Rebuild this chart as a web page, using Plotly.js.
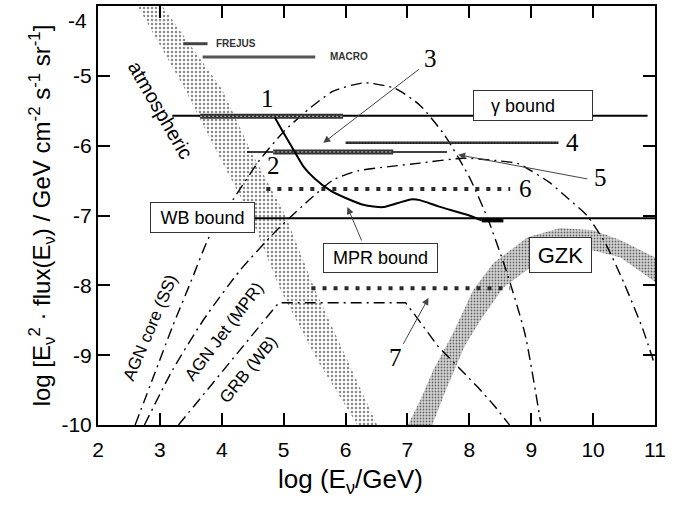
<!DOCTYPE html>
<html>
<head>
<meta charset="utf-8">
<script src="https://cdn.plot.ly/plotly-3.0.1.min.js"></script>
<style>html,body{margin:0;padding:0;background:#fff;}#chart{width:690px;height:518px;}</style>
</head>
<body>
<div id="chart"></div>
<script>
// ---------- data (log E [GeV], log flux) ----------
// atmospheric neutrino band
const atmLeftX  = [2.64, 3.41, 3.90, 4.46, 4.95, 5.54, 6.19];
const atmLeftY  = [-4.0, -5.2, -6.06, -7.0, -8.07, -9.07, -10.0];
const atmRightX = [3.04, 4.01, 4.46, 5.03, 5.51, 6.03, 6.51];
const atmRightY = [-4.0, -5.2, -6.06, -7.0, -8.07, -9.07, -10.0];
// GZK band
const gzkUpperX = [7.01, 7.21, 7.42, 7.74, 8.06, 8.39, 8.94, 9.47, 10.0, 10.44, 11.0];
const gzkUpperY = [-10.0, -9.64, -9.21, -8.68, -8.07, -7.68, -7.31, -7.18, -7.21, -7.35, -7.60];
const gzkLowerX = [7.40, 7.64, 7.93, 8.18, 8.55, 8.98, 9.47, 10.0, 10.44, 11.0];
const gzkLowerY = [-10.0, -9.46, -8.86, -8.50, -8.03, -7.75, -7.57, -7.50, -7.60, -7.95];
// model predictions
const ssX  = [2.6, 2.9, 3.2, 3.5, 3.8, 4.2, 4.6, 5.0, 5.4, 5.8, 6.3, 6.8, 7.2, 7.6, 8.0, 8.3, 8.6, 8.9, 9.15];
const ssY  = [-10, -9.3, -8.6, -7.95, -7.3, -6.75, -6.22, -5.8, -5.48, -5.22, -5.1, -5.18, -5.42, -5.85, -6.45, -7.05, -7.8, -8.7, -9.95];
const jetX = [2.75, 3.2, 3.7, 4.3, 4.9, 5.46, 5.8, 6.2, 6.7, 7.2, 7.9, 8.4, 8.8, 9.0, 9.3, 9.6, 9.9, 10.2, 10.5, 10.8, 11.0];
const jetY = [-10, -9.22, -8.5, -7.78, -7.2, -6.74, -6.49, -6.36, -6.3, -6.25, -6.18, -6.21, -6.26, -6.36, -6.53, -6.76, -7.0, -7.4, -7.97, -8.62, -9.15];
const grbX = [3.3, 3.7, 4.1, 4.5, 4.8, 4.92, 6.97, 7.1, 7.5, 7.85, 8.15, 8.4, 8.65];
const grbY = [-10, -9.57, -9.13, -8.7, -8.38, -8.25, -8.25, -8.4, -8.88, -9.2, -9.47, -9.72, -10];
// MPR bound
const mprX = [4.86, 5.0, 5.14, 5.32, 5.5, 5.75, 6.03, 6.3, 6.6, 6.85, 7.05, 7.2, 7.5, 8.0, 8.2];
const mprY = [-5.6, -5.82, -6.03, -6.3, -6.47, -6.64, -6.76, -6.85, -6.88, -6.82, -6.77, -6.78, -6.87, -7.0, -7.07];
const mprEndX = [8.2, 8.55];
const mprEndY = [-7.07, -7.07];
// bounds and experimental limits (x-range, level)
const gammaBoundX = [3.2, 10.88]; const gammaBoundY = [-5.57, -5.57];
const wbBoundX    = [4.5, 11.0];  const wbBoundY    = [-7.04, -7.04];
const lim1X  = [3.65, 5.96]; const lim1Y  = [-5.58, -5.58];
const lim2X  = [4.41, 7.64]; const lim2Y  = [-6.09, -6.09];
const lim2bX = [4.83, 6.77]; const lim2bY = [-6.09, -6.09];
const lim4X  = [6.0, 9.44];  const lim4Y  = [-5.96, -5.96];
const lim6X  = [4.72, 8.66]; const lim6Y  = [-6.62, -6.62];
const lim7X  = [5.45, 8.66]; const lim7Y  = [-8.04, -8.04];
const frejusX = [3.38, 3.77]; const frejusY = [-4.54, -4.54];
const macroX  = [3.69, 5.51]; const macroY  = [-4.73, -4.73];
// axis ticks
const xTicks = [2, 3, 4, 5, 6, 7, 8, 9, 10, 11];
const yTicks = [-10, -9, -8, -7, -6, -5, -4];
const yTickText = ['-10', '-9', '-8', '-7', '-6', '-5', ''];  // "-4" drawn just below the top edge

// ---------- traces ----------
function ln(x, y, color, width, dash) {
  return {x: x, y: y, type: 'scatter', mode: 'lines', hoverinfo: 'skip', showlegend: false,
          line: {color: color, width: width, dash: dash || 'solid', shape: 'spline', smoothing: 0.6}};
}
function band(xa, ya, xb, yb, pattern) {
  const x = xa.concat(xb.slice().reverse());
  const y = ya.concat(yb.slice().reverse());
  x.push(xa[0]); y.push(ya[0]);
  return {x: x, y: y, type: 'scatter', mode: 'lines', fill: 'toself', hoverinfo: 'skip', showlegend: false,
          line: {width: 0, color: 'rgba(0,0,0,0)'}, fillcolor: pattern.bgcolor, fillpattern: pattern};
}
const dashDot = '11px,5px,2px,5px';
const traces = [
  band(atmLeftX, atmLeftY, atmRightX, atmRightY, {shape: '.', fgcolor: '#8a8a8a', bgcolor: '#ffffff', size: 4, solidity: 0.3}),
  band(gzkUpperX, gzkUpperY, gzkLowerX, gzkLowerY, {shape: '.', fgcolor: '#666666', bgcolor: '#d6d6d6', size: 3, solidity: 0.3}),
  ln(ssX, ssY, '#000', 1.4, dashDot),
  ln(jetX, jetY, '#000', 1.4, dashDot),
  Object.assign(ln(grbX, grbY, '#000', 1.4, dashDot), {line: {color: '#000', width: 1.4, dash: dashDot, shape: 'linear'}}),
  ln(gammaBoundX, gammaBoundY, '#000', 2),
  ln(wbBoundX, wbBoundY, '#000', 2),
  ln(lim2X, lim2Y, '#000', 1.5),
  ln(lim1X, lim1Y, '#333', 5),
  ln(lim1X, lim1Y, '#aaaaaa', 1.2, '2px,2px'),
  ln(lim2bX, lim2bY, '#333', 5),
  ln(lim2bX, lim2bY, '#aaaaaa', 1.2, '2px,2px'),
  ln(lim4X, lim4Y, '#222', 2.5),
  ln(lim4X, lim4Y, '#999999', 0.8, '1px,2px'),
  ln(lim6X, lim6Y, '#2a2a2a', 4, '4px,7px'),
  ln(lim7X, lim7Y, '#2a2a2a', 4, '4px,7px'),
  ln(frejusX, frejusY, '#444', 3),
  ln(macroX, macroY, '#555', 3),
  ln(mprX, mprY, '#000', 2),
  ln(mprEndX, mprEndY, '#000', 4)
];

// ---------- annotations ----------
const serif = {family: 'Liberation Serif, Times New Roman, serif', size: 25, color: '#000'};
const sans = (s) => ({family: 'Liberation Sans, Arial, sans-serif', size: s, color: '#000'});
function lbl(text, x, y, font, extra) {
  return Object.assign({text: text, x: x, y: y, xref: 'x', yref: 'y', showarrow: false, font: font}, extra || {});
}
function box(text, x, y, w, h, size, extra) {
  return Object.assign({text: text, x: x, y: y, xref: 'x', yref: 'y', showarrow: false, font: sans(size),
    bgcolor: '#ffffff', bordercolor: '#333', borderwidth: 1, borderpad: 0, width: w, height: h}, extra || {});
}
function arrow(x, y, ax, ay) {
  return {text: '', x: x, y: y, ax: ax, ay: ay, xref: 'x', yref: 'y', axref: 'x', ayref: 'y',
    showarrow: true, arrowhead: 2, arrowsize: 1.4, arrowwidth: 1, arrowcolor: '#444', standoff: 0, startstandoff: 0};
}
const annotations = [
  box('\u03b3 bound\u00a0\u00a0\u00a0\u00a0', 9.03, -5.43, 118, 29, 18),
  box('WB bound', 3.69, -7.03, 103, 29, 18),
  box('MPR bound', 6.57, -7.61, 113, 28, 18),
  box('GZK', 9.48, -7.57, 61, 34, 22),
  lbl('<b>FREJUS</b>', 3.87, -4.54, {family: 'Liberation Sans, Arial, sans-serif', size: 10, color: '#333'}, {xanchor: 'left'}),
  lbl('<b>MACRO</b>', 5.72, -4.73, {family: 'Liberation Sans, Arial, sans-serif', size: 10, color: '#333'}, {xanchor: 'left'}),
  lbl('1', 4.74, -5.32, serif),
  lbl('2', 4.83, -6.29, serif),
  lbl('3', 7.38, -4.75, serif),
  lbl('4', 9.66, -5.96, serif),
  lbl('5', 10.12, -6.46, serif),
  lbl('6', 8.9, -6.62, serif),
  lbl('7', 6.8, -9.03, serif),
  lbl('atmospheric', 3.01, -5.49, sans(20), {textangle: 60}),
  lbl('AGN core (SS)', 2.85, -8.61, sans(17), {textangle: -67}),
  lbl('AGN Jet (MPR)', 4.04, -8.66, sans(17), {textangle: -53}),
  lbl('GRB (WB)', 4.43, -9.2, sans(17), {textangle: -51}),
  // top y tick label, shifted inside the page
  {text: '-4', xref: 'paper', yref: 'y', x: 0, y: -4, xanchor: 'right', yanchor: 'middle', xshift: -9, yshift: -14,
   showarrow: false, font: sans(21)},
  arrow(5.64, -5.96, 7.21, -4.89),
  arrow(7.82, -6.13, 9.93, -6.48),
  arrow(6.03, -6.88, 6.27, -7.38),
  arrow(7.34, -8.18, 6.92, -8.86)
];

const axisCommon = {
  showgrid: false, zeroline: false, showline: true, linecolor: '#000', linewidth: 2,
  mirror: 'ticks', ticks: 'inside', ticklen: 12, tickwidth: 2, tickcolor: '#000',
  tickfont: {family: 'Liberation Sans, Arial, sans-serif', size: 21, color: '#000'}
};
const layout = {
  width: 690, height: 518,
  margin: {l: 98, r: 35, t: 6, b: 93},
  paper_bgcolor: '#fff', plot_bgcolor: '#fff',
  showlegend: false, hovermode: false,
  xaxis: Object.assign({}, axisCommon, {
    range: [2, 11], tickvals: xTicks, ticktext: xTicks.map(String), ticklabelstandoff: 5,
    title: {text: 'log (E<sub>\u03bd</sub>/GeV)\u2003\u2003\u200b', font: {family: 'Liberation Sans, Arial, sans-serif', size: 26, color: '#000'}, standoff: 10}
  }),
  yaxis: Object.assign({}, axisCommon, {
    range: [-10, -4], tickvals: yTicks, ticktext: yTickText,
    title: {text: 'log [E<sub>\u03bd</sub><sup>2</sup> \u00b7 flux(E<sub>\u03bd</sub>) / GeV cm<sup>-2</sup> s<sup>-1</sup> sr<sup>-1</sup>]',
            font: {family: 'Liberation Sans, Arial, sans-serif', size: 24, color: '#000'}, standoff: 4}
  }),
  annotations: annotations
};
Plotly.newPlot('chart', traces, layout, {displayModeBar: false, staticPlot: true});
</script>
</body>
</html>
